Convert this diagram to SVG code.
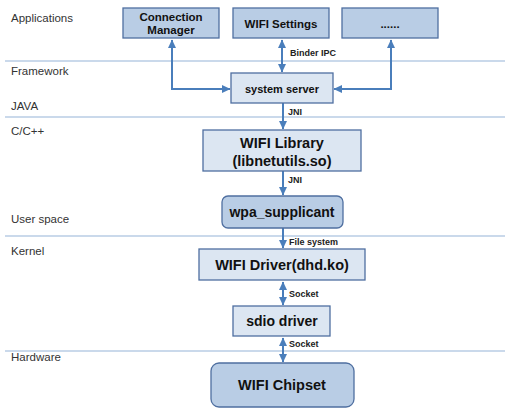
<svg xmlns="http://www.w3.org/2000/svg" width="505" height="409" viewBox="0 0 505 409">
<defs>
<style>
.bg{fill:#ffffff}
.sep{stroke:#95b3d7;stroke-width:1.2;fill:none}
.layer{font-family:"Liberation Sans",Arial,sans-serif;font-size:11.5px;fill:#333333}
.dark{fill:#b9cde5;stroke:#4f6fa0;stroke-width:1.3}
.light{fill:#dce6f2;stroke:#4f6fa0;stroke-width:1.3}
.t{font-family:"Liberation Sans",Arial,sans-serif;font-weight:bold;fill:#111111;text-anchor:middle}
.lbl{font-family:"Liberation Sans",Arial,sans-serif;font-weight:bold;font-size:9px;fill:#222222}
.conn{stroke:#4a7ebb;stroke-width:2;fill:none}
</style>
<marker id="ah" markerUnits="userSpaceOnUse" markerWidth="9" markerHeight="9" viewBox="0 0 9 9" refX="8" refY="4.5" orient="auto-start-reverse">
<path d="M0,0.5 L8.5,4.5 L0,8.5 z" fill="#4a7ebb"/>
</marker>
</defs>
<rect class="bg" x="0" y="0" width="505" height="409"/>
<g id="layers">
<line class="sep" x1="5" y1="61" x2="505" y2="61"/>
<line class="sep" x1="5" y1="117" x2="505" y2="117"/>
<line class="sep" x1="5" y1="236" x2="505" y2="236"/>
<line class="sep" x1="5" y1="351" x2="505" y2="351"/>
<text class="layer" x="11" y="22">Applications</text>
<text class="layer" x="11" y="75">Framework</text>
<text class="layer" x="11" y="110">JAVA</text>
<text class="layer" x="11" y="135">C/C++</text>
<text class="layer" x="11" y="223">User space</text>
<text class="layer" x="11" y="255">Kernel</text>
<text class="layer" x="11" y="361">Hardware</text>
</g>
<g id="connectors">
<polyline class="conn" points="172,40 172,89 230,89" marker-start="url(#ah)" marker-end="url(#ah)"/>
<line class="conn" x1="282" y1="40" x2="282" y2="72" marker-start="url(#ah)" marker-end="url(#ah)"/>
<polyline class="conn" points="391,40 391,89 334,89" marker-start="url(#ah)" marker-end="url(#ah)"/>
<line class="conn" x1="283" y1="103" x2="283" y2="129" marker-end="url(#ah)"/>
<line class="conn" x1="283" y1="171" x2="283" y2="195" marker-end="url(#ah)"/>
<line class="conn" x1="283" y1="228" x2="283" y2="248" marker-end="url(#ah)"/>
<line class="conn" x1="283" y1="282" x2="283" y2="305" marker-start="url(#ah)" marker-end="url(#ah)"/>
<line class="conn" x1="283" y1="338" x2="283" y2="362" marker-start="url(#ah)" marker-end="url(#ah)"/>
<text class="lbl" x="290" y="56">Binder IPC</text>
<text class="lbl" x="288" y="115">JNI</text>
<text class="lbl" x="288" y="183">JNI</text>
<text class="lbl" x="289" y="245">File system</text>
<text class="lbl" x="289" y="297">Socket</text>
<text class="lbl" x="289" y="347">Socket</text>
</g>
<g id="connection-manager">
<rect class="dark" x="123" y="8" width="96" height="30"/>
<text class="t" x="171" y="21" font-size="11.5">Connection</text>
<text class="t" x="171" y="34" font-size="11.5">Manager</text>
</g>
<g id="wifi-settings">
<rect class="dark" x="233" y="8" width="96" height="30"/>
<text class="t" x="281" y="28" font-size="11.5">WIFI Settings</text>
</g>
<g id="more-apps">
<rect class="dark" x="342" y="8" width="96" height="30"/>
<text class="t" x="390" y="28" font-size="11.5">......</text>
</g>
<g id="system-server">
<rect class="light" x="231" y="73" width="102" height="30"/>
<text class="t" x="282" y="93" font-size="11">system server</text>
</g>
<g id="wifi-library">
<rect class="light" x="203" y="130" width="158" height="41"/>
<text class="t" x="282" y="148" font-size="14.5">WIFI Library</text>
<text class="t" x="282" y="166" font-size="14.5">(libnetutils.so)</text>
</g>
<g id="wpa-supplicant">
<rect class="dark" x="222" y="196" width="121" height="32" rx="6" ry="6"/>
<text class="t" x="282" y="217" font-size="14">wpa_supplicant</text>
</g>
<g id="wifi-driver">
<rect class="light" x="199" y="249" width="166" height="31"/>
<text class="t" x="282" y="270" font-size="14.5">WIFI Driver(dhd.ko)</text>
</g>
<g id="sdio-driver">
<rect class="light" x="233" y="306" width="97" height="30"/>
<text class="t" x="282" y="326" font-size="14">sdio driver</text>
</g>
<g id="wifi-chipset">
<rect class="dark" x="211" y="363" width="143" height="44" rx="8" ry="8"/>
<text class="t" x="282" y="390" font-size="14.5">WIFI Chipset</text>
</g>
</svg>
